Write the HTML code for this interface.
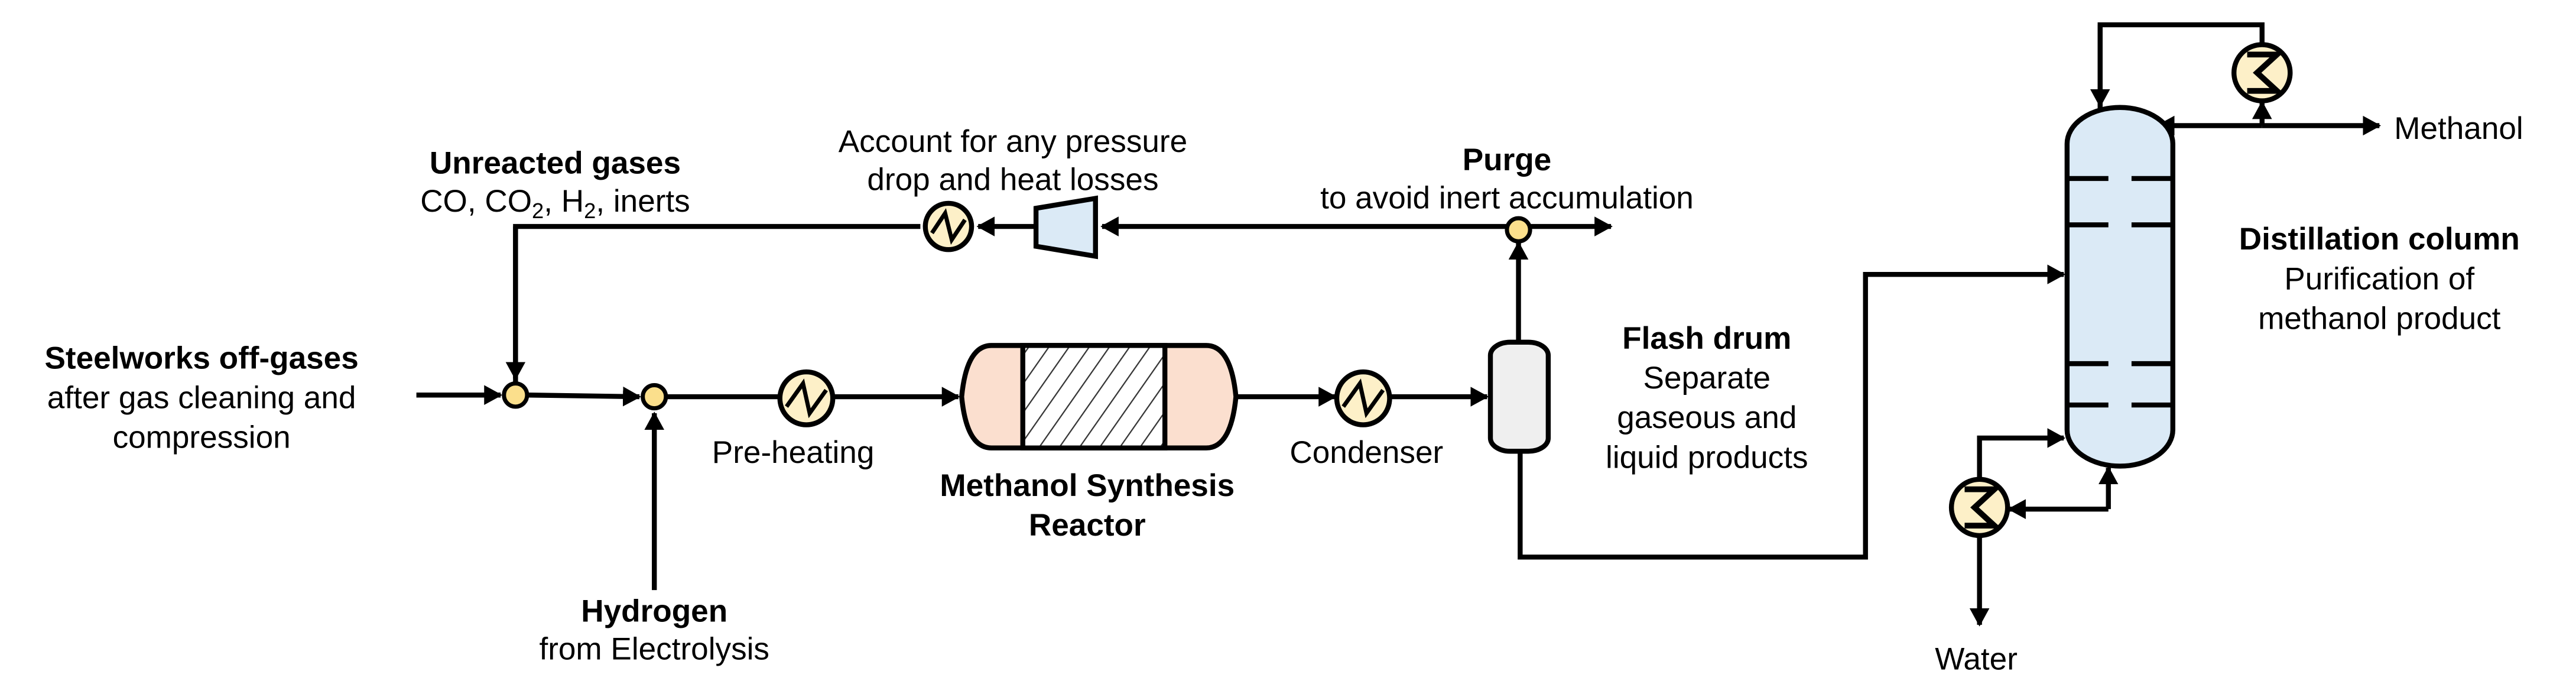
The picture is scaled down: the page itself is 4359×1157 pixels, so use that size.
<!DOCTYPE html>
<html><head><meta charset="utf-8"><style>
html,body{margin:0;padding:0;background:#fff;}
svg{display:block;}
text{font-family:"Liberation Sans",Arial,Helvetica,sans-serif;font-size:19px;fill:#000;text-anchor:middle;}
.b{font-weight:bold;}
</style></head><body>
<svg width="4359" height="1157" viewBox="0 0 1559 413.8" xmlns="http://www.w3.org/2000/svg">
<defs>
<marker id="a" markerUnits="userSpaceOnUse" markerWidth="14" markerHeight="14" refX="10" refY="6" orient="auto">
<path d="M0,0 L11,6 L0,12 Z" fill="#000"/></marker>
<pattern id="h" patternUnits="userSpaceOnUse" width="10" height="10" patternTransform="rotate(35)">
<rect width="10" height="10" fill="#fff"/><line x1="0" y1="0" x2="0" y2="10" stroke="#333" stroke-width="1.6"/></pattern>
</defs>
<g fill="none" stroke="#000" stroke-width="3">
<path d="M252,239 H303" marker-end="url(#a)"/>
<path d="M320,239 L387,240" marker-end="url(#a)"/>
<path d="M404,240 H471"/>
<path d="M505,240 H580" marker-end="url(#a)"/>
<path d="M396,357 V250" marker-end="url(#a)"/>
<path d="M312,231 V137 H557"/>
<path d="M312,137 V229" marker-end="url(#a)"/>
<path d="M626,137 H592" marker-end="url(#a)"/>
<path d="M912,137 H667" marker-end="url(#a)"/>
<path d="M926,137 H975" marker-end="url(#a)"/>
<path d="M919,207 V147" marker-end="url(#a)"/>
<path d="M745,240 H808" marker-end="url(#a)"/>
<path d="M842,240 H900" marker-end="url(#a)"/>
<path d="M920,272 V337 H1129 V166 H1249" marker-end="url(#a)"/>
<path d="M1271,66 V15 H1369 V27"/>
<path d="M1271,15 V64" marker-end="url(#a)"/>
<path d="M1369,76 V62" marker-end="url(#a)"/>
<path d="M1369,76 H1440" marker-end="url(#a)"/>
<path d="M1369,76 H1306" marker-end="url(#a)"/>
<path d="M1276,308 V283" marker-end="url(#a)"/>
<path d="M1276,308 H1216" marker-end="url(#a)"/>
<path d="M1198,290 V265 H1249" marker-end="url(#a)"/>
<path d="M1198,324 V378" marker-end="url(#a)"/>
</g>
<path d="M600,209 H730 Q745,209 748,240 Q745,271 730,271 H600 Q585,271 582,240 Q585,209 600,209 Z" fill="#fbdfcf" stroke="#000" stroke-width="3"/>
<rect x="619" y="209" width="86" height="62" fill="url(#h)" stroke="#000" stroke-width="3"/>
<rect x="902" y="207" width="35" height="66" rx="12" ry="8" fill="#efefef" stroke="#000" stroke-width="3"/>
<rect x="1251" y="65" width="64" height="217" rx="32" ry="22" fill="#dbeaf6" stroke="#000" stroke-width="3"/>
<g stroke="#000" stroke-width="3">
<line x1="1251" y1="108" x2="1276" y2="108"/><line x1="1290" y1="108" x2="1315" y2="108"/>
<line x1="1251" y1="136" x2="1276" y2="136"/><line x1="1290" y1="136" x2="1315" y2="136"/>
<line x1="1251" y1="220" x2="1276" y2="220"/><line x1="1290" y1="220" x2="1315" y2="220"/>
<line x1="1251" y1="245" x2="1276" y2="245"/><line x1="1290" y1="245" x2="1315" y2="245"/>
</g>
<path d="M627,126 L663,120 L663,155 L627,149 Z" fill="#dbeaf6" stroke="#000" stroke-width="3"/>
<g fill="#fbdf8c" stroke="#000" stroke-width="2.5">
<circle cx="312" cy="239" r="7"/><circle cx="396" cy="240" r="7"/><circle cx="919" cy="139" r="7"/>
</g>
<g fill="#fdf0c8" stroke="#000" stroke-width="3">
<ellipse cx="488" cy="241" rx="16" ry="16"/><ellipse cx="825" cy="241" rx="16" ry="16"/><ellipse cx="574" cy="137" rx="14" ry="14"/>
<ellipse cx="1369" cy="44" rx="17" ry="17"/><ellipse cx="1198" cy="307" rx="17" ry="17"/>
</g>
<g fill="none" stroke="#000" stroke-width="2.5">
<path d="M476,246 L486,232 L490,250 L500,236"/>
<path d="M813,246 L823,232 L827,250 L837,236"/>
<path d="M564,141 L572,129 L576,145 L584,133"/>
<path d="M1360,33 H1378 L1366,44 L1378,55 H1360" stroke-width="3.5"/>
<path d="M1189,296 H1207 L1195,307 L1207,318 H1189" stroke-width="3.5"/>
</g>
<text class="b" x="122" y="223">Steelworks off-gases</text>
<text x="122" y="247">after gas cleaning and</text>
<text x="122" y="271">compression</text>
<text class="b" x="336" y="105">Unreacted gases</text>
<text x="336" y="128">CO, CO<tspan font-size="13" dy="4">2</tspan><tspan dy="-4">, H</tspan><tspan font-size="13" dy="4">2</tspan><tspan dy="-4">, inerts</tspan></text>
<text x="613" y="92">Account for any pressure</text>
<text x="613" y="115">drop and heat losses</text>
<text class="b" x="912" y="103">Purge</text>
<text x="912" y="126">to avoid inert accumulation</text>
<text x="480" y="280">Pre-heating</text>
<text class="b" x="658" y="300">Methanol Synthesis</text>
<text class="b" x="658" y="324">Reactor</text>
<text x="827" y="280">Condenser</text>
<text class="b" x="396" y="376">Hydrogen</text>
<text x="396" y="399">from Electrolysis</text>
<text class="b" x="1033" y="211">Flash drum</text>
<text x="1033" y="235">Separate</text>
<text x="1033" y="259">gaseous and</text>
<text x="1033" y="283">liquid products</text>
<text class="b" x="1440" y="151">Distillation column</text>
<text x="1440" y="175">Purification of</text>
<text x="1440" y="199">methanol product</text>
<text x="1488" y="84">Methanol</text>
<text x="1196" y="405">Water</text>
</svg>
</body></html>
